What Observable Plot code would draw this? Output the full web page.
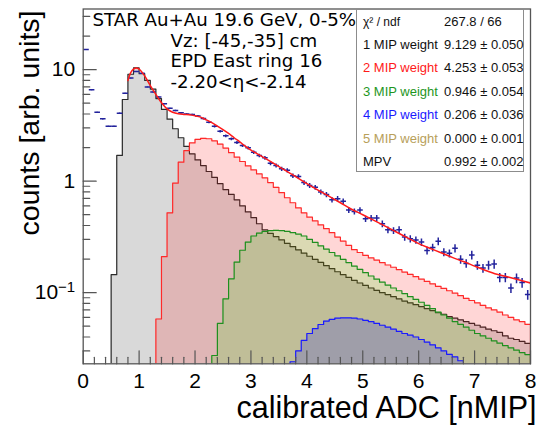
<!DOCTYPE html>
<html>
<head>
<meta charset="utf-8">
<script src="https://cdn.jsdelivr.net/npm/d3@7"></script>
<script src="https://cdn.jsdelivr.net/npm/@observablehq/plot@0.6"></script>
<style>
  body { margin: 0; background: #fff; }
  #wrap { position: relative; width: 541px; height: 426px; overflow: hidden; background: #fff; }
  #wrap svg { position: absolute; left: 0; top: 0; }
  #stats { position: absolute; left: 356px; top: 9px; width: 166px; height: 161px; border: 1px solid #8c8c8c; background: #fff;
           font-family: "Liberation Sans", Arial, sans-serif; font-size: 13px; color: #111; }
  #stats .lab, #stats .val { position: absolute; height: 16px; line-height: 16px; white-space: nowrap; }
  #stats .lab { left: 6px; }
  #stats .val { left: 87px; }
</style>
</head>
<body>
<div id="wrap"></div>
<script>
// ---------------- data ----------------
const binWidth = 0.1;

// measured spectrum: bin centres, counts, relative errors
const dataX = [0.05,0.15,0.25,0.35,0.45,0.55,0.65,0.75,0.85,0.95,
               1.05,1.15,1.25,1.35,1.45,1.55,1.65,1.75,1.85,1.95,
               2.05,2.15,2.25,2.35,2.45,2.55,2.65,2.75,2.85,2.95,
               3.05,3.15,3.25,3.35,3.45,3.55,3.65,3.75,3.85,3.95,
               4.05,4.15,4.25,4.35,4.45,4.55,4.65,4.75,4.85,4.95,
               5.05,5.15,5.25,5.35,5.45,5.55,5.65,5.75,5.85,5.95,
               6.05,6.15,6.25,6.35,6.45,6.55,6.65,6.75,6.85,6.95,
               7.05,7.15,7.25,7.35,7.45,7.55,7.65,7.75,7.85,7.95];
const dataY = [15.2,6.6,4.15,3.62,3.1,3.1,4.07,6.15,8.4,9.65,
               9.3,7.0,6.3,5.7,4.95,4.5,4.3,4.1,4.0,3.96,
               3.85,3.65,3.38,3.1,2.8,2.55,2.40,2.22,2.09,1.99,
               1.82,1.70,1.62,1.45,1.38,1.29,1.25,1.12,1.10,0.97,
               0.915,0.88,0.80,0.76,0.68,0.695,0.66,0.55,0.535,0.55,
               0.46,0.466,0.466,0.415,0.367,0.361,0.367,0.315,0.304,0.296,
               0.284,0.239,0.254,0.289,0.231,0.225,0.25,0.199,0.183,0.218,
               0.176,0.166,0.177,0.181,0.137,0.137,0.110,0.135,0.123,0.096];
const dataRelErr = [0.008,0.01,0.012,0.012,0.013,0.013,0.012,0.009,0.008,0.008,
                    0.008,0.009,0.01,0.011,0.012,0.013,0.014,0.015,0.016,0.017,
                    0.018,0.02,0.022,0.024,0.026,0.028,0.029,0.03,0.032,0.034,
                    0.035,0.037,0.038,0.04,0.041,0.043,0.044,0.046,0.047,0.048,
                    0.05,0.051,0.053,0.054,0.056,0.057,0.058,0.06,0.061,0.062,
                    0.064,0.065,0.066,0.068,0.069,0.07,0.071,0.073,0.074,0.075,
                    0.077,0.078,0.079,0.081,0.082,0.083,0.085,0.086,0.087,0.089,
                    0.09,0.091,0.093,0.094,0.095,0.097,0.098,0.099,0.1,0.102];

// total fit function
const fitX = [0.8,0.85,0.9,0.95,1.0,1.05,1.1,1.2,1.3,1.4,1.5,1.6,1.7,1.8,1.9,2.0,2.1,2.2,2.3,2.4,2.5,2.6,2.7,2.8,2.9,3.0,
              3.2,3.4,3.6,3.8,4.0,4.2,4.4,4.6,4.8,5.0,5.2,5.4,5.6,5.8,6.0,6.2,6.4,6.6,6.8,7.0,7.2,7.4,7.6,7.8,8.0];
const fitY = [8.0,9.4,10.1,10.35,10.1,9.5,8.8,7.2,6.0,5.05,4.45,4.15,4.02,3.97,3.94,3.86,3.75,3.55,3.35,3.12,2.9,2.68,2.45,2.25,2.06,1.9,
              1.66,1.45,1.26,1.10,0.95,0.83,0.73,0.64,0.56,0.50,0.445,0.395,0.35,0.31,0.275,0.25,0.228,0.207,0.19,0.173,0.158,0.146,0.138,0.13,0.122];

// n-MIP components (histograms, bin width 0.1, first bin low edge given)
const mip1Start = 0.5;
const mip1 = [0.145,1.70,5.4,9.1,10.4,9.2,8.0,6.7,5.5,4.4,
              3.6,2.95,2.45,2.05,1.76,1.55,1.38,1.22,1.08,0.95,
              0.84,0.76,0.68,0.60,0.53,0.47,0.415,0.365,0.34,0.318,
              0.297,0.277,0.259,0.242,0.226,0.212,0.199,0.187,0.175,0.164,
              0.154,0.145,0.137,0.129,0.122,0.116,0.110,0.105,0.100,0.096,
              0.092,0.088,0.084,0.081,0.078,0.075,0.072,0.069,0.066,0.064,
              0.061,0.059,0.057,0.055,0.053,0.051,0.049,0.047,0.0455,0.044,
              0.041,0.039,0.038,0.0365,0.035];
const mip2Start = 1.3;
const mip2 = [0.058,0.21,0.52,0.96,1.48,1.88,2.2,2.37,2.42,2.40,
              2.30,2.15,1.98,1.80,1.64,1.50,1.37,1.26,1.16,1.07,
              0.97,0.88,0.79,0.71,0.64,0.575,0.52,0.475,0.44,0.405,
              0.375,0.345,0.315,0.29,0.265,0.243,0.229,0.216,0.205,0.196,
              0.186,0.177,0.169,0.161,0.153,0.146,0.139,0.132,0.126,0.120,
              0.114,0.109,0.104,0.099,0.094,0.089,0.085,0.081,0.077,0.073,
              0.070,0.067,0.063,0.060,0.057,0.055,0.052];
const mip3Start = 2.3;
const mip3 = [0.0273,0.053,0.088,0.133,0.188,0.24,0.284,0.322,0.342,0.354,
              0.360,0.362,0.360,0.355,0.346,0.335,0.322,0.30,0.282,0.263,
              0.246,0.229,0.214,0.199,0.186,0.173,0.162,0.151,0.141,0.132,
              0.124,0.117,0.110,0.104,0.098,0.092,0.087,0.082,0.077,0.072,
              0.067,0.063,0.059,0.055,0.052,0.049,0.046,0.043,0.041,0.039,
              0.037,0.0352,0.0335,0.032,0.0305,0.029,0.0278];
const mip4Start = 3.7;
const mip4 = [0.024,0.030,0.0373,0.043,0.0475,0.0518,0.0556,0.0575,0.059,0.0595,
              0.0595,0.059,0.058,0.0565,0.055,0.053,0.051,0.049,0.047,0.045,
              0.043,0.0415,0.040,0.038,0.036,0.034,0.032,0.030,0.028,0.0265,
              0.0245,0.022,0.020];

// axis ticks and texts
const xMajor = [0,1,2,3,4,5,6,7,8];
const xMinor = [0.2,0.4,0.6,0.8,1.2,1.4,1.6,1.8,2.2,2.4,2.6,2.8,3.2,3.4,3.6,3.8,4.2,4.4,4.6,4.8,5.2,5.4,5.6,5.8,6.2,6.4,6.6,6.8,7.2,7.4,7.6,7.8];
const yMajor = [0.1,1,10];
const yMajorLabels = ["10^-1","1","10"];
const yMinor = [0.03,0.04,0.05,0.06,0.07,0.08,0.09,0.2,0.3,0.4,0.5,0.6,0.7,0.8,0.9,2,3,4,5,6,7,8,9,20,30];
const xTitle = "calibrated ADC [nMIP]";
const yTitle = "counts [arb. units]";
const annotLines = ["STAR Au+Au 19.6 GeV, 0-5%","Vz: [-45,-35] cm","EPD East ring 16","-2.20<η<-2.14"];
const statLabels = ["χ² / ndf","1 MIP weight","2 MIP weight","3 MIP weight","4 MIP weight","5 MIP weight","MPV"];
const statValues = ["267.8 / 66","9.129 ± 0.050","4.253 ± 0.053","0.946 ± 0.054","0.206 ± 0.036","0.000 ± 0.001","0.992 ± 0.002"];
const statColors = ["#111","#111","#ff1a1a","#1e961e","#1a1aff","#b8a05a","#111"];

// ---------------- build ----------------
const floorVal = 1e-3;
function histPoints(start, vals) {
  const pts = [{x: start, y: floorVal}];
  vals.forEach((v, i) => pts.push({x: +(start + i * binWidth).toFixed(3), y: v}));
  const end = +(start + vals.length * binWidth).toFixed(3);
  pts.push({x: end, y: vals[vals.length - 1]});
  pts.push({x: end, y: floorVal});
  return pts;
}
const comps = [
  {pts: histPoints(mip1Start, mip1), line: "#2b2b2b", fill: "#000000", op: 0.15},
  {pts: histPoints(mip2Start, mip2), line: "#ff2a2a", fill: "#ff0000", op: 0.16},
  {pts: histPoints(mip3Start, mip3), line: "#1f8f1f", fill: "#22ee00", op: 0.16},
  {pts: histPoints(mip4Start, mip4), line: "#1a1aff", fill: "#0000ff", op: 0.17}
];
const points = dataX.map((x, i) => ({x, y: dataY[i], e: dataY[i] * dataRelErr[i]}));
const fit = fitX.map((x, i) => ({x, y: fitY[i]}));

const tickShape = {draw(context, l) { context.moveTo(0, 0); context.lineTo(0, -l); }};
const axisCol = "#555";

const marks = [];
for (const c of comps) {
  marks.push(Plot.areaY(c.pts, {x: "x", y1: floorVal, y2: "y", curve: "step-after", fill: c.fill, fillOpacity: c.op, clip: true}));
  marks.push(Plot.line(c.pts, {x: "x", y: "y", curve: "step-after", stroke: c.line, strokeWidth: 1.2, clip: true}));
}
marks.push(
  Plot.link(points, {x1: d => d.x - binWidth / 2, x2: d => d.x + binWidth / 2, y1: "y", y2: "y", stroke: "#23239c", strokeWidth: 1.5, clip: true}),
  Plot.link(points, {x1: "x", x2: "x", y1: d => d.y - d.e, y2: d => d.y + d.e, stroke: "#23239c", strokeWidth: 1.5, clip: true}),
  Plot.line(fit, {x: "x", y: "y", curve: "catmull-rom", stroke: "#ff1a1a", strokeWidth: 1.5, clip: true}),
  Plot.frame({stroke: axisCol, strokeWidth: 1.3}),
  Plot.vector(xMajor, {x: d => d, frameAnchor: "bottom", length: 13, rotate: 0, anchor: "start", shape: tickShape, stroke: axisCol, strokeWidth: 1.2}),
  Plot.vector(xMinor, {x: d => d, frameAnchor: "bottom", length: 6.5, rotate: 0, anchor: "start", shape: tickShape, stroke: axisCol, strokeWidth: 1.2}),
  Plot.vector(yMajor, {y: d => d, frameAnchor: "left", length: 13, rotate: 90, anchor: "start", shape: tickShape, stroke: axisCol, strokeWidth: 1.2}),
  Plot.vector(yMinor, {y: d => d, frameAnchor: "left", length: 6.5, rotate: 90, anchor: "start", shape: tickShape, stroke: axisCol, strokeWidth: 1.2}),
  Plot.axisX({ticks: xMajor, tickSize: 0, tickPadding: 9, tickFormat: d => String(d), label: null, fontSize: 21}),
  Plot.axisY({ticks: yMajor, tickSize: 0, tickPadding: 8, tickFormat: d => yMajorLabels[yMajor.indexOf(d)], label: null, fontSize: 21}),
  Plot.text([yTitle], {frameAnchor: "top-left", text: d => d, dx: -53, dy: 1.5, rotate: -90, textAnchor: "end", lineAnchor: "middle", fontSize: 28.5}),
  Plot.text([xTitle], {frameAnchor: "bottom-right", text: d => d, dx: 6, dy: 44.5, textAnchor: "end", lineAnchor: "middle", fontSize: 30.5})
);
const annotDx = [9.3, 87.3, 87.3, 87.3];
const annotDy = [11.3, 32.3, 52.3, 73.3];
annotLines.forEach((t, i) => {
  marks.push(Plot.text([t], {frameAnchor: "top-left", text: d => d, dx: annotDx[i], dy: annotDy[i], textAnchor: "start", lineAnchor: "middle", fontSize: 18.2, fontFamily: "DejaVu Sans"}));
});

const chart = Plot.plot({
  width: 541, height: 426,
  marginLeft: 82.7, marginRight: 11, marginTop: 8.5, marginBottom: 62.7,
  style: {fontFamily: "'Liberation Sans', Arial, sans-serif", fontSize: "21px", background: "white", color: "black"},
  x: {domain: [0, 8], axis: null},
  y: {type: "log", domain: [0.023, 35], axis: null},
  marks
});

// superscript for 10^-1
chart.querySelectorAll("text").forEach(t => {
  if (t.textContent === "10^-1") {
    t.textContent = "10";
    const s = document.createElementNS("http://www.w3.org/2000/svg", "tspan");
    s.setAttribute("dy", "-0.5em");
    s.setAttribute("font-size", "15px");
    s.textContent = "\u22121";
    t.appendChild(s);
  }
});

const wrap = document.getElementById("wrap");
wrap.appendChild(chart);

// statistics box
const stats = document.createElement("div");
stats.id = "stats";
const rowCenters = [11.5, 34.9, 58.3, 81.7, 105.1, 128.5, 151.9];
statLabels.forEach((lab, i) => {
  const a = document.createElement("div");
  a.className = "lab";
  a.style.top = (rowCenters[i] - 8) + "px";
  a.style.color = statColors[i];
  if (i === 0) a.style.fontSize = "12px";
  a.textContent = lab;
  const b = document.createElement("div");
  b.className = "val";
  b.style.top = (rowCenters[i] - 8) + "px";
  b.textContent = statValues[i];
  stats.appendChild(a);
  stats.appendChild(b);
});
wrap.appendChild(stats);
</script>
</body>
</html>
